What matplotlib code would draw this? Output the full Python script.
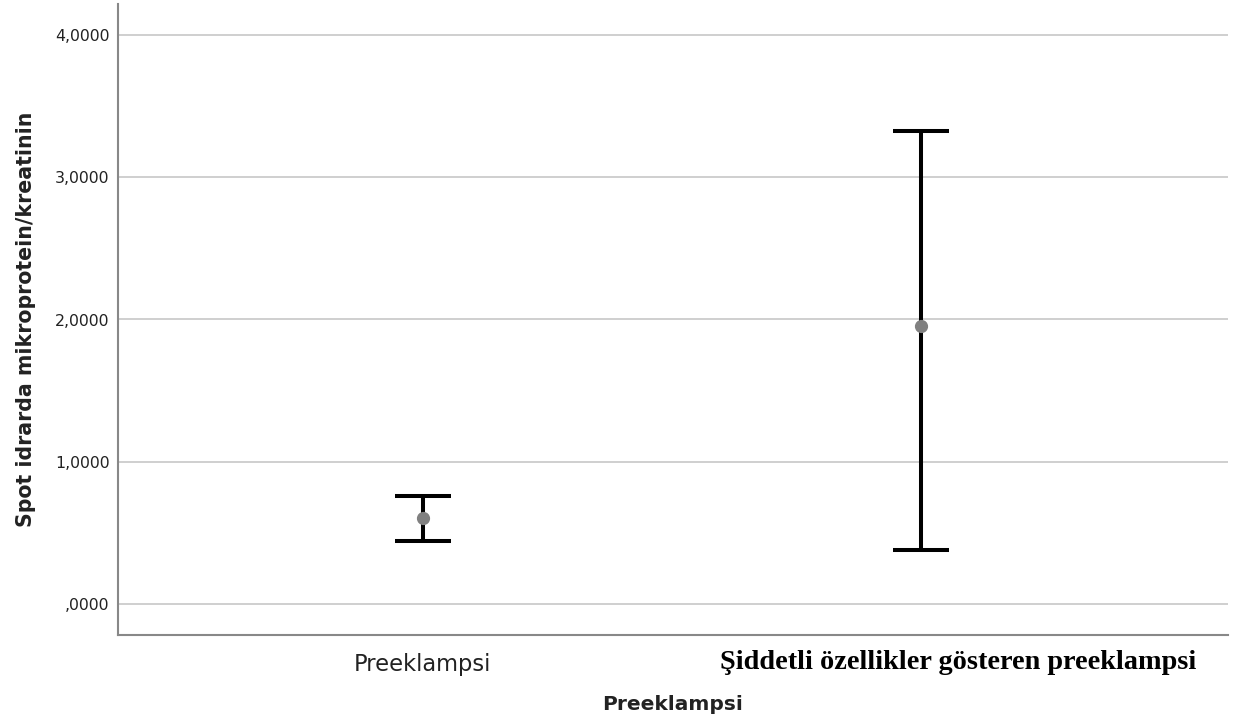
import matplotlib
matplotlib.use("Agg")
import matplotlib.pyplot as plt

# Group means and 95% CI bounds
categories = ["Preeklampsi", "Şiddetli özellikler gösteren preeklampsi"]
means = [0.604, 1.954]
ci_lower = [0.443, 0.379]
ci_upper = [0.759, 3.324]
yticks = [0.0, 1.0, 2.0, 3.0, 4.0]
ytick_labels = [",0000", "1,0000", "2,0000", "3,0000", "4,0000"]

fig = plt.figure(figsize=(12.4, 7.25), dpi=100)
ax = fig.add_axes([118 / 1240, 90 / 725, 1110 / 1240, 631 / 725])

xs = list(range(len(categories)))
err_lo = [m - lo for m, lo in zip(means, ci_lower)]
err_hi = [hi - m for m, hi in zip(means, ci_upper)]

ax.errorbar(xs, means, yerr=[err_lo, err_hi], fmt="none", ecolor="black",
            elinewidth=2.9, capsize=20, capthick=2.9, zorder=3)
ax.plot(xs, means, "o", color="#808080", markersize=8.5, zorder=4)

ax.set_xlim(-0.612, 1.616)
ax.set_ylim(-0.218, 4.218)
ax.set_yticks(yticks)
ax.set_yticklabels(ytick_labels, fontsize=11.3, color="#222222")
ax.yaxis.grid(True, color="#cccccc", linewidth=1.3)
ax.set_axisbelow(True)

# First category uses the regular tick label; the second is set in a serif face
ax.set_xticks(xs)
ax.set_xticklabels([categories[0], ""], fontsize=16.3, color="#222222")
ax.annotate(categories[1], xy=(xs[1], 0), xycoords=ax.get_xaxis_transform(),
            xytext=(27, -20), textcoords="offset points",
            ha="center", va="center", fontsize=20.3,
            family="Liberation Serif", fontweight="bold", color="black")

ax.tick_params(axis="both", length=0)
ax.tick_params(axis="x", pad=13)
ax.tick_params(axis="y", pad=6)

for side in ("top", "right"):
    ax.spines[side].set_visible(False)
for side in ("left", "bottom"):
    ax.spines[side].set_color("#888888")
    ax.spines[side].set_linewidth(1.5)

ax.set_ylabel("Spot idrarda mikroprotein/kreatinin", fontsize=14.8,
              fontweight="bold", color="#222222")
ax.yaxis.set_label_coords(-0.0735, 0.5)
ax.set_xlabel("Preeklampsi", fontsize=14.5, fontweight="bold",
              labelpad=14, color="#222222")

fig.savefig("out.png", dpi=100, facecolor="white")
